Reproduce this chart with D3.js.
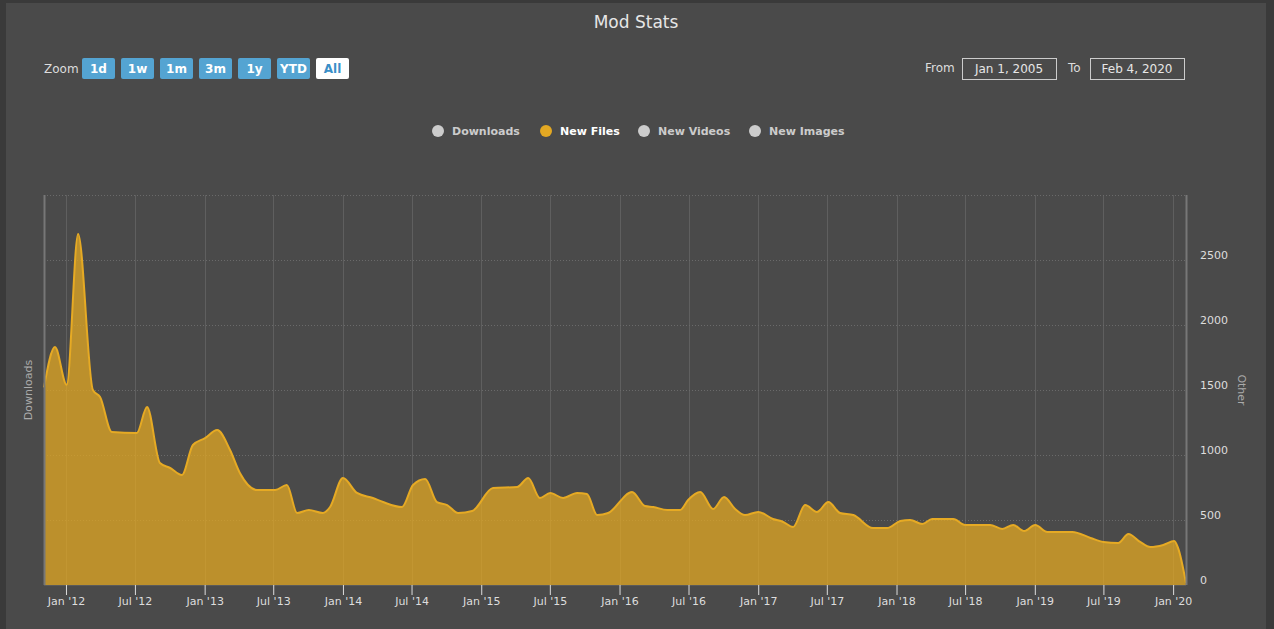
<!DOCTYPE html>
<html>
<head>
<meta charset="utf-8">
<script src="https://cdn.jsdelivr.net/npm/d3@7"></script>
<style>
  body { margin: 0; background: #3a3a3a; overflow: hidden; }
  svg { display: block; font-family: "DejaVu Sans", Verdana, sans-serif; }
</style>
</head>
<body>
<div id="chart"></div>
<script>
// New Files series
var fileDates = ["2011-11-04", "2011-12-03", "2012-01-03", "2012-02-02", "2012-03-12", "2012-03-31",
    "2012-05-01", "2012-07-06", "2012-08-02", "2012-09-05", "2012-10-02", "2012-11-02", "2012-12-01",
    "2013-01-02", "2013-02-03", "2013-03-09", "2013-04-04", "2013-05-19", "2013-07-06", "2013-08-06",
    "2013-09-02", "2013-10-03", "2013-11-09", "2013-11-28", "2014-01-01", "2014-02-07", "2014-03-21",
    "2014-04-17", "2014-06-06", "2014-07-05", "2014-08-06", "2014-09-06", "2014-10-03", "2014-11-01",
    "2014-12-08", "2015-02-01", "2015-04-06", "2015-05-05", "2015-06-05", "2015-07-02", "2015-08-05",
    "2015-09-11", "2015-10-07", "2015-11-03", "2015-12-02", "2016-02-03", "2016-03-08", "2016-03-30",
    "2016-05-06", "2016-06-09", "2016-06-30", "2016-08-01", "2016-09-04", "2016-10-03", "2016-11-01",
    "2016-11-27", "2017-01-01", "2017-02-09", "2017-03-08", "2017-04-03", "2017-05-05", "2017-06-05",
    "2017-07-05", "2017-08-05", "2017-09-09", "2017-10-31", "2017-12-07", "2018-01-11", "2018-02-06",
    "2018-03-10", "2018-04-05", "2018-05-31", "2018-07-01", "2018-09-05", "2018-10-07", "2018-11-05",
    "2018-12-04", "2019-01-02", "2019-02-03", "2019-04-10", "2019-05-28", "2019-07-01", "2019-08-09",
    "2019-09-05", "2019-10-06", "2019-11-02", "2019-12-06", "2020-01-04", "2020-01-14", "2020-02-04"];
var fileValues = [1520, 1830, 1540, 2700, 1500, 1446,
    1177, 1169, 1369, 938, 900, 846, 1077,
    1130, 1192, 1038, 861, 731, 731, 769,
    554, 577, 554, 600, 823, 708, 669,
    638, 600, 769, 815, 638, 615, 554,
    569, 746, 754, 823, 669, 708, 669,
    708, 700, 538, 554, 715, 608, 600,
    577, 577, 654, 715, 585, 677, 585,
    538, 562, 508, 485, 446, 615, 562,
    638, 554, 538, 438, 438, 492, 500,
    469, 508, 508, 462, 462, 431, 462,
    415, 462, 408, 408, 362, 331, 323,
    392, 331, 292, 308, 338, 285, 15];

var yTicks = [0, 500, 1000, 1500, 2000, 2500, 3000];
var zoomButtons = ["1d", "1w", "1m", "3m", "1y", "YTD", "All"];
var legendNames = ["Downloads", "New Files", "New Videos", "New Images"];
var rangeFrom = "Jan 1, 2005";
var rangeTo = "Feb 4, 2020";

var width = 1274, height = 629;
var margin = { top: 195, right: 88, bottom: 44, left: 44 };
var innerWidth = width - margin.left - margin.right;
var innerHeight = height - margin.top - margin.bottom;

var parseDate = d3.timeParse("%Y-%m-%d");
var points = fileDates.map((d, i) => ({ date: parseDate(d), value: fileValues[i] }));

var svg = d3.select("#chart").append("svg")
    .attr("width", width)
    .attr("height", height);

// chart panel
svg.append("rect")
    .attr("x", 6).attr("y", 3)
    .attr("width", 1260).attr("height", 626)
    .attr("fill", "#4a4a4a");

svg.append("text")
    .attr("x", 636).attr("y", 28)
    .attr("text-anchor", "middle")
    .attr("fill", "#e6e6e6")
    .style("font-size", "17px")
    .text("Mod Stats");

// range selector buttons
svg.append("text")
    .attr("x", 44).attr("y", 73)
    .attr("fill", "#dddddd")
    .style("font-size", "12px")
    .text("Zoom");

var btn = svg.append("g").selectAll("g")
    .data(zoomButtons)
    .join("g")
    .attr("transform", (d, i) => `translate(${82 + i * 39}, 58)`);
btn.append("rect")
    .attr("width", 33).attr("height", 21).attr("rx", 2)
    .attr("fill", d => d == "All" ? "#ffffff" : "#54a4d2");
btn.append("text")
    .attr("x", 16.5).attr("y", 15)
    .attr("text-anchor", "middle")
    .attr("fill", d => d == "All" ? "#3a8fc8" : "#ffffff")
    .style("font-size", "12px")
    .style("font-weight", "bold")
    .text(d => d);

// from / to inputs
svg.append("text").attr("x", 925).attr("y", 72).attr("fill", "#dddddd")
    .style("font-size", "12px").text("From");
svg.append("text").attr("x", 1068).attr("y", 72).attr("fill", "#dddddd")
    .style("font-size", "12px").text("To");
[[962, rangeFrom], [1090, rangeTo]].forEach(function (b) {
    svg.append("rect")
        .attr("x", b[0] + 0.5).attr("y", 58.5)
        .attr("width", 94).attr("height", 21)
        .attr("fill", "none").attr("stroke", "#cccccc");
    svg.append("text")
        .attr("x", b[0] + 47).attr("y", 73)
        .attr("text-anchor", "middle")
        .attr("fill", "#e6e6e6")
        .style("font-size", "12px")
        .text(b[1]);
});

// legend
var legendX = [438, 546, 644, 755];
var leg = svg.append("g").selectAll("g")
    .data(legendNames)
    .join("g")
    .attr("transform", (d, i) => `translate(${legendX[i]}, 131)`);
leg.append("circle")
    .attr("r", 6)
    .attr("fill", d => d == "New Files" ? "#e3a823" : "#cccccc");
leg.append("text")
    .attr("x", 14).attr("y", 4)
    .attr("fill", d => d == "New Files" ? "#ffffff" : "#cccccc")
    .style("font-size", "11px")
    .style("font-weight", "bold")
    .text(d => d);

var g = svg.append("g")
    .attr("transform", `translate(${margin.left}, ${margin.top})`);

var x = d3.scaleTime()
    .domain([points[0].date, points[points.length - 1].date])
    .range([0, innerWidth]);

var y = d3.scaleLinear()
    .domain([0, 3000])
    .range([innerHeight, 0]);

var xTicks = d3.timeMonth.every(6).range(new Date(2012, 0, 1), new Date(2020, 1, 1));

// vertical grid
g.append("g").selectAll("line")
    .data(xTicks)
    .join("line")
    .attr("x1", d => Math.round(x(d)) + 0.5).attr("x2", d => Math.round(x(d)) + 0.5)
    .attr("y1", 0).attr("y2", innerHeight)
    .attr("stroke", "#5f5f5f");

// horizontal grid
g.append("g").selectAll("line")
    .data(yTicks)
    .join("line")
    .attr("x1", 0).attr("x2", innerWidth)
    .attr("y1", d => Math.round(y(d)) + 0.5).attr("y2", d => Math.round(y(d)) + 0.5)
    .attr("stroke", "#6a6a6a")
    .attr("stroke-dasharray", "1,2");

// area + line
var area = d3.area()
    .curve(d3.curveMonotoneX)
    .x(d => x(d.date))
    .y0(innerHeight)
    .y1(d => y(d.value));
var line = d3.line()
    .curve(d3.curveMonotoneX)
    .x(d => x(d.date))
    .y(d => y(d.value));

g.append("path").datum(points)
    .attr("fill", "#e3a823").attr("fill-opacity", 0.75)
    .attr("d", area);
g.append("path").datum(points)
    .attr("fill", "none")
    .attr("stroke", "#e6aa24")
    .attr("stroke-width", 2)
    .attr("d", line);

// axis lines
g.append("line").attr("x1", 0.5).attr("x2", 0.5).attr("y1", 0).attr("y2", innerHeight)
    .attr("stroke", "#777777").attr("stroke-width", 2);
g.append("line").attr("x1", innerWidth + 0.5).attr("x2", innerWidth + 0.5).attr("y1", 0).attr("y2", innerHeight)
    .attr("stroke", "#777777").attr("stroke-width", 2);
g.append("line").attr("x1", 0).attr("x2", innerWidth).attr("y1", innerHeight + 0.5).attr("y2", innerHeight + 0.5)
    .attr("stroke", "#5a5a5a");

// x axis
var xAxis = g.append("g")
    .attr("transform", `translate(0, ${innerHeight})`)
    .call(d3.axisBottom(x)
        .tickValues(xTicks)
        .tickSize(10)
        .tickFormat(d => d3.timeFormat("%b '%y")(d)));
xAxis.select(".domain").remove();
xAxis.selectAll("line").attr("stroke", "#dddddd");
xAxis.selectAll("text")
    .attr("fill", "#dddddd")
    .attr("y", 12)
    .style("font-size", "11px")
    .style("font-family", "DejaVu Sans, sans-serif");

// right y axis
var yAxis = g.append("g")
    .attr("transform", `translate(${innerWidth}, 0)`)
    .call(d3.axisRight(y)
        .tickValues(yTicks.slice(0, 6))
        .tickSize(0)
        .tickPadding(14)
        .tickFormat(d3.format("d")));
yAxis.select(".domain").remove();
yAxis.selectAll("text")
    .attr("fill", "#dddddd")
    .attr("dy", "-0.1em")
    .style("font-size", "11px")
    .style("font-family", "DejaVu Sans, sans-serif");

// axis titles
svg.append("text")
    .attr("transform", "translate(32, 390) rotate(-90)")
    .attr("text-anchor", "middle")
    .attr("fill", "#aaaaaa")
    .style("font-size", "11px")
    .text("Downloads");
svg.append("text")
    .attr("transform", "translate(1238, 390) rotate(90)")
    .attr("text-anchor", "middle")
    .attr("fill", "#aaaaaa")
    .style("font-size", "11px")
    .text("Other");
</script>
</body>
</html>
